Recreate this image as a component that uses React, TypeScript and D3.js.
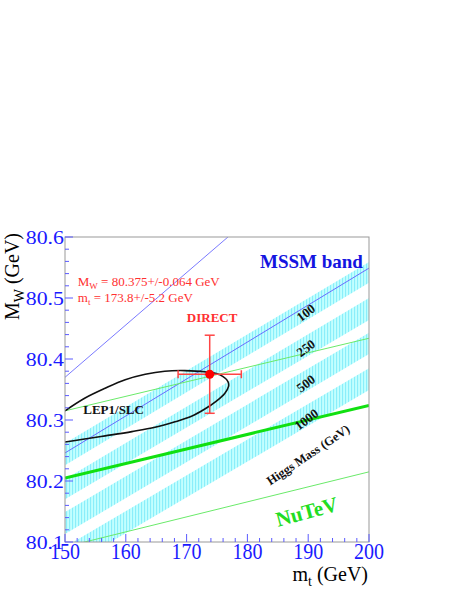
import { useMemo } from "react";
import * as d3 from "d3";

// axis ranges
const mtDomain = [150, 200];
const mwDomain = [80.1, 80.6];
const mtMajor = [150, 160, 170, 180, 190, 200];
const mwMajor = [80.1, 80.2, 80.3, 80.4, 80.5, 80.6];

// MSSM / SM bands: [mt, lower MW, upper MW] at both ends
const band100 = [[150, 80.226, 80.262], [200, 80.525, 80.559]];
const band250 = [[150, 80.17, 80.203], [200, 80.464, 80.5]];
const band500 = [[150, 80.113, 80.149], [200, 80.408, 80.443]];
const band1000 = [[150, 80.056, 80.092], [200, 80.349, 80.385]];
const bands = [band100, band250, band500, band1000];

// straight lines [mt, MW]
const blueUpper = [[150, 80.37], [176.8, 80.6]];
const blueMiddle = [[150, 80.246], [200, 80.549]];
const nutevUpper = [[150, 80.315], [200, 80.434]];
const nutevCentral = [[150, 80.205], [200, 80.324]];
const nutevLower = [[150, 80.092], [200, 80.215]];

// LEP1/SLC contour
const lepContour = [
  [150, 80.315], [153.3, 80.336], [156.6, 80.352], [159.9, 80.366], [163.2, 80.375],
  [166.4, 80.38], [169.7, 80.381], [173, 80.379], [175.5, 80.374], [176.8, 80.363],
  [176.9, 80.355], [176.3, 80.344], [174.9, 80.331], [173, 80.318], [170.8, 80.306],
  [168.1, 80.297], [164.8, 80.288], [161, 80.281], [156.6, 80.274], [152.7, 80.268],
  [150, 80.264],
];

// direct measurement
const directMt = 173.8;
const directMtErr = 5.2;
const directMw = 80.375;
const directMwErr = 0.064;

// Higgs-mass labels on the bands
const higgsLabels = ["100", "250", "500", "1000"];
const higgsLabelPos = [[189.6, 80.476], [189.6, 80.418], [189.6, 80.36], [189.7, 80.301]];

const W = 469;
const H = 607;
const left = 65;
const right = 369;
const top = 237;
const bottom = 542;
const serif = "Liberation Serif, Times New Roman, serif";

export default function App() {
  const x = useMemo(() => d3.scaleLinear().domain(mtDomain).range([left, right]), []);
  const y = useMemo(() => d3.scaleLinear().domain(mwDomain).range([bottom, top]), []);

  const line = d3.line<number[]>().x((d) => x(d[0])).y((d) => y(d[1]));
  const contour = d3
    .line<number[]>()
    .x((d) => x(d[0]))
    .y((d) => y(d[1]))
    .curve(d3.curveCatmullRom.alpha(0.5));
  const bandArea = d3
    .area<number[]>()
    .x((d) => x(d[0]))
    .y0((d) => y(d[1]))
    .y1((d) => y(d[2]));

  const mtMinor = x.ticks(25);
  const mwMinor = y.ticks(25);

  return (
    <svg
      width={W}
      height={H}
      style={{ position: "absolute", left: 0, top: 0, background: "#fff", fontFamily: serif }}
    >
      <defs>
        <clipPath id="plot">
          <rect x={left} y={top} width={right - left} height={bottom - top} />
        </clipPath>
        <pattern id="hatch" width="3" height="3" patternUnits="userSpaceOnUse">
          <rect width="3" height="3" fill="#c2ffff" />
          <rect width="1.1" height="3" fill="#8aeefa" />
        </pattern>
      </defs>

      <g clipPath="url(#plot)">
        {bands.map((b, i) => (
          <path key={i} d={bandArea(b) || ""} fill="url(#hatch)" />
        ))}
        <path d={line(blueUpper) || ""} stroke="#7a7aff" strokeWidth={1} fill="none" />
        <path d={line(blueMiddle) || ""} stroke="#6a6aff" strokeWidth={1} fill="none" />
        <path d={line(nutevUpper) || ""} stroke="#6aea6a" strokeWidth={1} fill="none" />
        <path d={line(nutevLower) || ""} stroke="#6aea6a" strokeWidth={1} fill="none" />
        <path d={line(nutevCentral) || ""} stroke="#11e011" strokeWidth={3} fill="none" />
        <path d={contour(lepContour) || ""} stroke="#111" strokeWidth={1.6} fill="none" />
      </g>

      {/* direct measurement */}
      <g stroke="#ff4444" strokeWidth={1.5}>
        <line x1={x(directMt - directMtErr)} x2={x(directMt + directMtErr)} y1={y(directMw)} y2={y(directMw)} />
        <line x1={x(directMt)} x2={x(directMt)} y1={y(directMw - directMwErr)} y2={y(directMw + directMwErr)} />
        {[directMt - directMtErr, directMt + directMtErr].map((v) => (
          <line key={v} x1={x(v)} x2={x(v)} y1={y(directMw) - 4} y2={y(directMw) + 4} />
        ))}
        {[directMw - directMwErr, directMw + directMwErr].map((v) => (
          <line key={v} x1={x(directMt) - 5} x2={x(directMt) + 5} y1={y(v)} y2={y(v)} />
        ))}
      </g>
      <circle cx={x(directMt)} cy={y(directMw)} r={4.5} fill="#ff0000" />

      {/* frame and ticks */}
      <rect x={left} y={top} width={right - left} height={bottom - top} fill="none" stroke="#999" />
      <g stroke="#5a5aff" strokeWidth={1}>
        {mtMinor.map((t) => {
          const major = mtMajor.includes(t);
          return <line key={t} x1={x(t)} x2={x(t)} y1={bottom} y2={bottom - (major ? 8 : 4)} />;
        })}
        {mwMinor.map((t) => {
          const major = mwMajor.some((m) => Math.abs(m - t) < 1e-6);
          return <line key={t} x1={left} x2={left + (major ? 8 : 4)} y1={y(t)} y2={y(t)} />;
        })}
      </g>
      <g fill="#1a1aff" fontSize={20}>
        {mtMajor.map((t) => (
          <text key={t} transform={`translate(${x(t)},559) scale(1,1.2)`} textAnchor="middle">
            {t}
          </text>
        ))}
      </g>
      <g fill="#1a1aff" fontSize={19}>
        {mwMajor.map((t) => (
          <text key={t} transform={`translate(64,${y(t) + 6.5}) scale(1.15,1)`} textAnchor="end">
            {t.toFixed(1)}
          </text>
        ))}
      </g>

      {/* axis titles */}
      <text x={368} y={581} textAnchor="end" fontSize={20} fill="#000">
        m<tspan fontSize={14} dy={5}>t</tspan>
        <tspan dy={-5}> (GeV)</tspan>
      </text>
      <text transform="translate(18.5,233) rotate(-90)" textAnchor="end" fontSize={20} fill="#000">
        M<tspan fontSize={14} dy={5}>W</tspan>
        <tspan dy={-5}> (GeV)</tspan>
      </text>

      {/* annotations */}
      <g fill="#ff3030" fontSize={13}>
        <text x={x(152.1)} y={y(80.5197)}>
          M<tspan fontSize={9} dy={3}>W</tspan>
          <tspan dy={-3}> = 80.375+/-0.064 GeV</tspan>
        </text>
        <text x={x(152.1)} y={y(80.4934)}>
          m<tspan fontSize={9} dy={3}>t</tspan>
          <tspan dy={-3}> = 173.8+/-5.2 GeV</tspan>
        </text>
        <text x={x(174.2)} y={y(80.4607)} textAnchor="middle" fontWeight="bold">
          DIRECT
        </text>
      </g>
      <text x={x(153)} y={y(80.3098)} fontSize={13} fontWeight="bold" fill="#111">
        LEP1/SLC
      </text>
      <text x={x(199)} y={y(80.55)} textAnchor="end" fontSize={19} fontWeight="bold" fill="#1414e0">
        MSSM band
      </text>
      {higgsLabels.map((s, i) => (
        <text
          key={s}
          transform={`translate(${x(higgsLabelPos[i][0])},${y(higgsLabelPos[i][1])}) rotate(-37)`}
          textAnchor="middle"
          dy="0.35em"
          fontSize={13}
          fontWeight="bold"
          fill="#111"
        >
          {s}
        </text>
      ))}
      <text
        transform={`translate(${x(189.97)},${y(80.243)}) rotate(-34)`}
        textAnchor="middle"
        dy="0.35em"
        fontSize={12.5}
        fontWeight="bold"
        fill="#111"
      >
        Higgs Mass (GeV)
      </text>
      <text
        transform={`translate(${x(189.75)},${y(80.15)}) rotate(-15)`}
        textAnchor="middle"
        dy="0.35em"
        fontSize={21}
        fontWeight="bold"
        fill="#22dd22"
      >
        NuTeV
      </text>
    </svg>
  );
}
